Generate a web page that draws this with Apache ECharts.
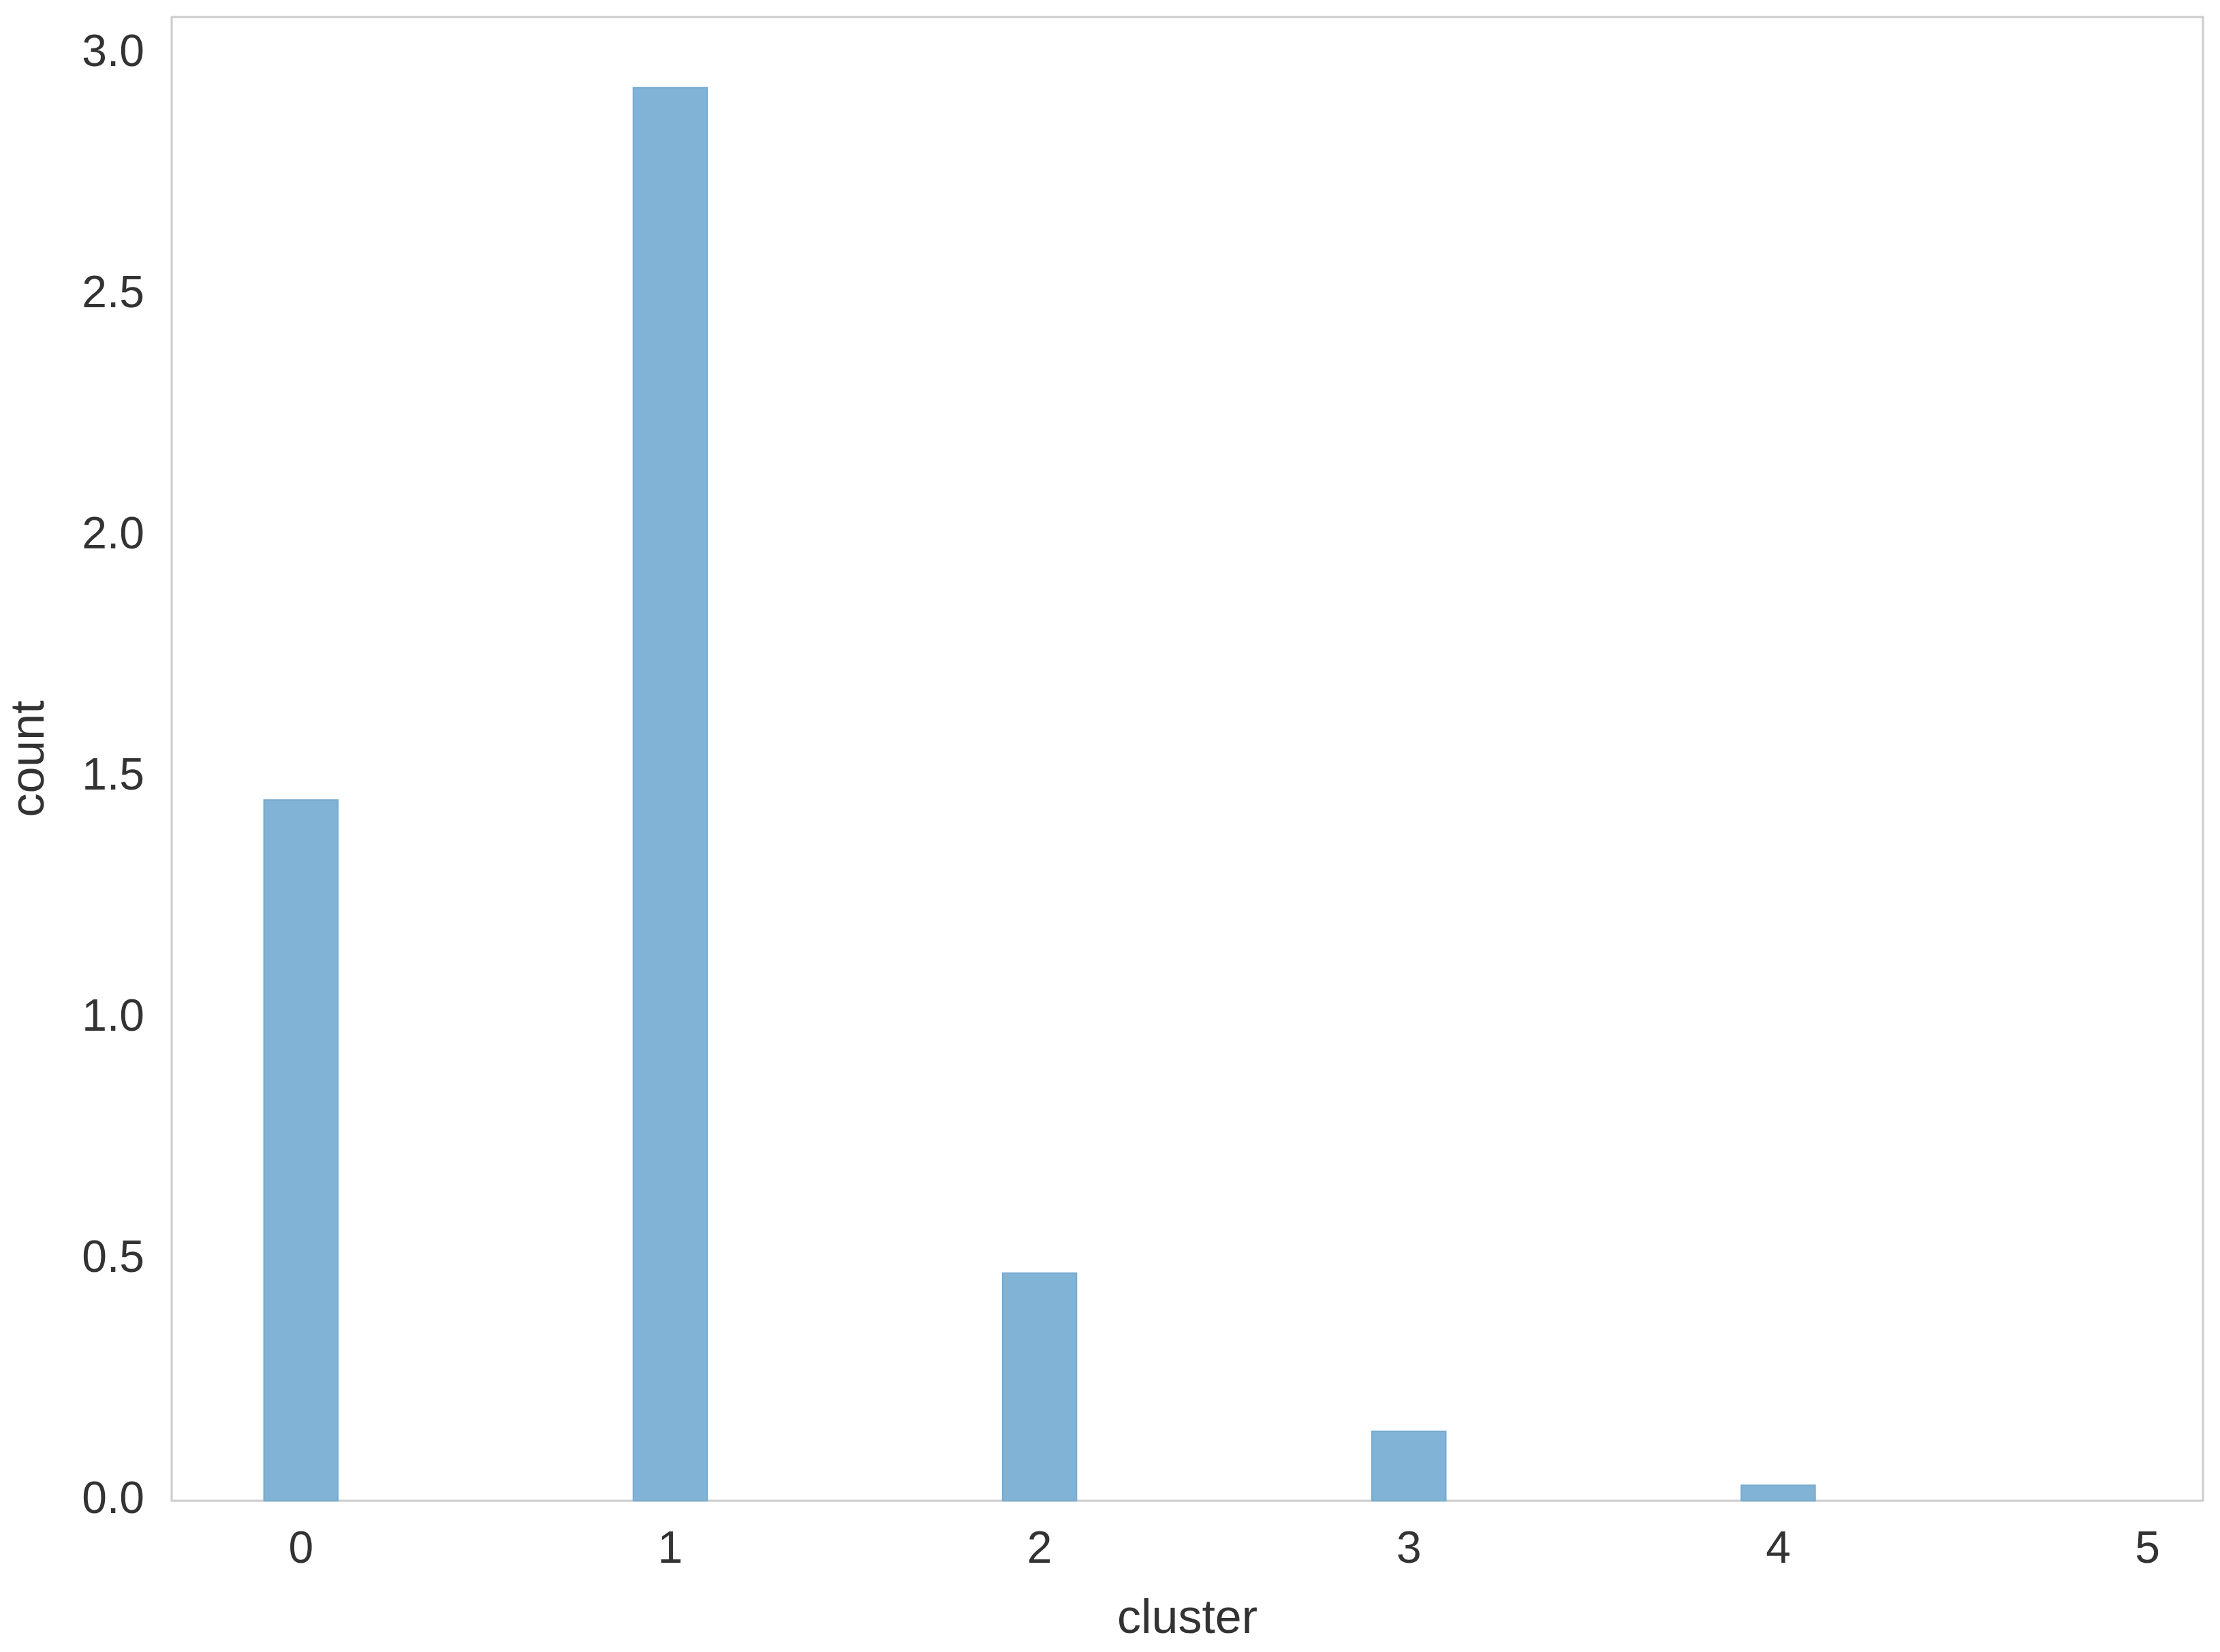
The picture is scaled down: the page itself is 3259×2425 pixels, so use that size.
<!DOCTYPE html>
<html>
<head>
<meta charset="utf-8">
<script src="https://cdn.jsdelivr.net/npm/echarts@6/dist/echarts.min.js"></script>
<style>html,body{margin:0;padding:0;background:#fff;}#c{width:3259px;height:2425px;}</style>
</head>
<body>
<div id="c"></div>
<script>
const clusters = [0, 1, 2, 3, 4];
const counts = [1.453, 2.93, 0.472, 0.144, 0.032];
const binWidth = 0.2;
const xTicks = [0, 1, 2, 3, 4, 5];
const yTicks = [0, 0.5, 1.0, 1.5, 2.0, 2.5, 3.0];

const chart = echarts.init(document.getElementById('c'), null, {renderer: 'canvas'});
const font = '"Liberation Sans", Arial, sans-serif';
const txt = '#333333';
chart.setOption({
  backgroundColor: '#ffffff',
  animation: false,
  grid: {left: 252, right: 25, top: 25, bottom: 222, show: true, borderColor: '#cccccc', borderWidth: 3,
    backgroundColor: '#ffffff', containLabel: false, outerBoundsMode: 'none'},
  xAxis: {
    type: 'value', min: -0.35, max: 5.15,
    name: 'cluster', nameLocation: 'middle', nameGap: 140,
    nameTextStyle: {fontSize: 70, color: txt, fontFamily: font},
    axisLine: {show: false}, axisTick: {show: false}, splitLine: {show: false},
    axisLabel: {customValues: xTicks, fontSize: 66, color: txt, fontFamily: font, margin: 40,
      formatter: v => String(v)}
  },
  yAxis: {
    type: 'value', min: 0, max: 3.0765,
    name: 'count', nameLocation: 'middle', nameGap: 172,
    nameTextStyle: {fontSize: 70, color: txt, fontFamily: font},
    axisLine: {show: false}, axisTick: {show: false}, splitLine: {show: false},
    axisLabel: {customValues: yTicks, fontSize: 66, color: txt, fontFamily: font, margin: 40,
      formatter: v => v.toFixed(1)}
  },
  series: [{
    type: 'custom',
    data: clusters.map((c, i) => [c, counts[i]]),
    encode: {x: 0, y: 1},
    renderItem: function (params, api) {
      const x = api.value(0), y = api.value(1);
      const p0 = api.coord([x - binWidth / 2, y]);
      const p1 = api.coord([x + binWidth / 2, 0]);
      return {
        type: 'rect',
        shape: {x: p0[0], y: p0[1], width: p1[0] - p0[0], height: p1[1] - p0[1]},
        style: {fill: '#80b3d5', stroke: '#75abd0', lineWidth: 2}
      };
    }
  }]
});
</script>
</body>
</html>
